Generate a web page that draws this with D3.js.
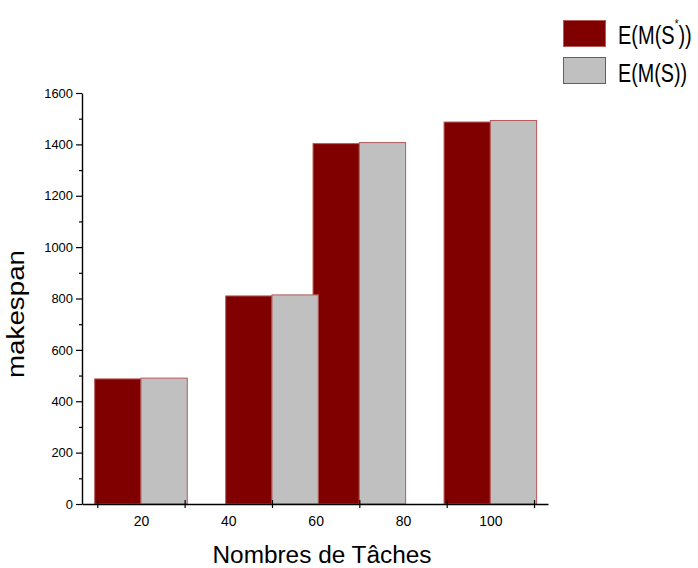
<!DOCTYPE html>
<html>
<head>
<meta charset="utf-8">
<script src="https://cdn.jsdelivr.net/npm/d3@7"></script>
<style>
  body { margin: 0; background: #ffffff; }
  svg { display: block; }
  text { font-family: "Liberation Sans", Arial, sans-serif; fill: #000; }
</style>
</head>
<body>
<svg id="chart" width="698" height="568"></svg>
<script>
// Group positions on the numeric task axis and the two makespan series
const taskGroups = [20, 50, 70, 100];
const makespanStar = [487, 810, 1403, 1487];   // E(M(S*))
const makespanS = [490, 814, 1407, 1493];      // E(M(S))

// Axis ticks
const xTickLabels = [20, 40, 60, 80, 100];
const xTickMarks = [10, 30, 50, 70, 90, 110];
const yTicks = [0, 200, 400, 600, 800, 1000, 1200, 1400, 1600];
const yMinorTicks = [100, 300, 500, 700, 900, 1100, 1300, 1500];

const barWidth = 10.6;          // bar width in task-axis units
const darkFill = "#800000";
const lightFill = "#c0c0c0";
const barStroke = "#b45a5a";

const svg = d3.select("#chart");

const x = d3.scaleLinear().domain([6.5, 113.2]).range([82, 548]);
const y = d3.scaleLinear().domain([0, 1600]).range([504, 93]);

// Bars: dark series first, light series drawn over it
const bars = svg.append("g");
bars.selectAll("rect.star")
  .data(taskGroups.map((t, i) => ({ t, v: makespanStar[i] })))
  .join("rect")
  .attr("class", "star")
  .attr("x", d => x(d.t - barWidth))
  .attr("width", d => x(d.t) - x(d.t - barWidth))
  .attr("y", d => y(d.v))
  .attr("height", d => y(0) - y(d.v))
  .attr("fill", darkFill)
  .attr("stroke", barStroke)
  .attr("stroke-width", 1);

bars.selectAll("rect.s")
  .data(taskGroups.map((t, i) => ({ t, v: makespanS[i] })))
  .join("rect")
  .attr("class", "s")
  .attr("x", d => x(d.t))
  .attr("width", d => x(d.t + barWidth) - x(d.t))
  .attr("y", d => y(d.v))
  .attr("height", d => y(0) - y(d.v))
  .attr("fill", lightFill)
  .attr("stroke", barStroke)
  .attr("stroke-width", 1);

// Y axis: labelled major ticks and short minor ticks
const yAxis = svg.append("g")
  .attr("transform", `translate(${x.range()[0]},0)`)
  .call(d3.axisLeft(y).tickValues(yTicks).tickFormat(d3.format("d"))
    .tickSize(6).tickPadding(3).tickSizeOuter(0));
yAxis.selectAll("text").attr("font-size", 13).attr("font-family", null)
  .attr("textLength", d => String(d).length * 7.2).attr("lengthAdjust", "spacingAndGlyphs");
yAxis.select(".domain").attr("stroke", "#000").attr("stroke-width", 1.4);
yAxis.selectAll(".tick line").attr("stroke-width", 1.2);

const yMinor = svg.append("g")
  .attr("transform", `translate(${x.range()[0]},0)`)
  .call(d3.axisLeft(y).tickValues(yMinorTicks).tickSize(3).tickFormat(""));
yMinor.select(".domain").remove();
yMinor.selectAll(".tick line").attr("stroke-width", 1.2);

// X axis: tick marks crossing the line, labels between them
const xAxis = svg.append("g")
  .attr("transform", `translate(0,${y(0)})`)
  .call(d3.axisBottom(x).tickValues(xTickMarks).tickSize(4).tickFormat("").tickSizeOuter(0));
xAxis.selectAll(".tick line").attr("y1", -4).attr("y2", 4).attr("stroke-width", 1.2);
xAxis.select(".domain").attr("stroke", "#000").attr("stroke-width", 1.4);

const xLabels = svg.append("g")
  .attr("transform", `translate(0,${y(0)})`)
  .call(d3.axisBottom(x).tickValues(xTickLabels).tickFormat(d3.format("d"))
    .tickSize(0).tickPadding(12));
xLabels.select(".domain").remove();
xLabels.selectAll("text").attr("font-size", 14).attr("font-family", null);

// Axis titles
svg.append("text")
  .attr("x", 322).attr("y", 563)
  .attr("text-anchor", "middle")
  .attr("font-size", 23)
  .attr("textLength", 219).attr("lengthAdjust", "spacingAndGlyphs")
  .text("Nombres de Tâches");

svg.append("text")
  .attr("transform", "translate(24,314) rotate(-90)")
  .attr("text-anchor", "middle")
  .attr("font-size", 23)
  .attr("textLength", 128).attr("lengthAdjust", "spacingAndGlyphs")
  .text("makespan");

// Legend
const legend = svg.append("g");
legend.append("rect")
  .attr("x", 563.5).attr("y", 20.5).attr("width", 42).attr("height", 26)
  .attr("fill", darkFill).attr("stroke", barStroke);
legend.append("rect")
  .attr("x", 563.5).attr("y", 57.5).attr("width", 42).attr("height", 26)
  .attr("fill", lightFill).attr("stroke", "#a04545");

// Legend labels use a horizontally condensed face
const t1 = legend.append("text")
  .attr("transform", "translate(618,44) scale(0.8,1)")
  .attr("font-size", 25);
t1.append("tspan").text("E(M(S");
t1.append("tspan").attr("font-size", 12).attr("dy", -16).text("*");
t1.append("tspan").attr("dy", 16).text("))");

legend.append("text")
  .attr("transform", "translate(618,82) scale(0.79,1)")
  .attr("font-size", 25)
  .text("E(M(S))");
</script>
</body>
</html>
